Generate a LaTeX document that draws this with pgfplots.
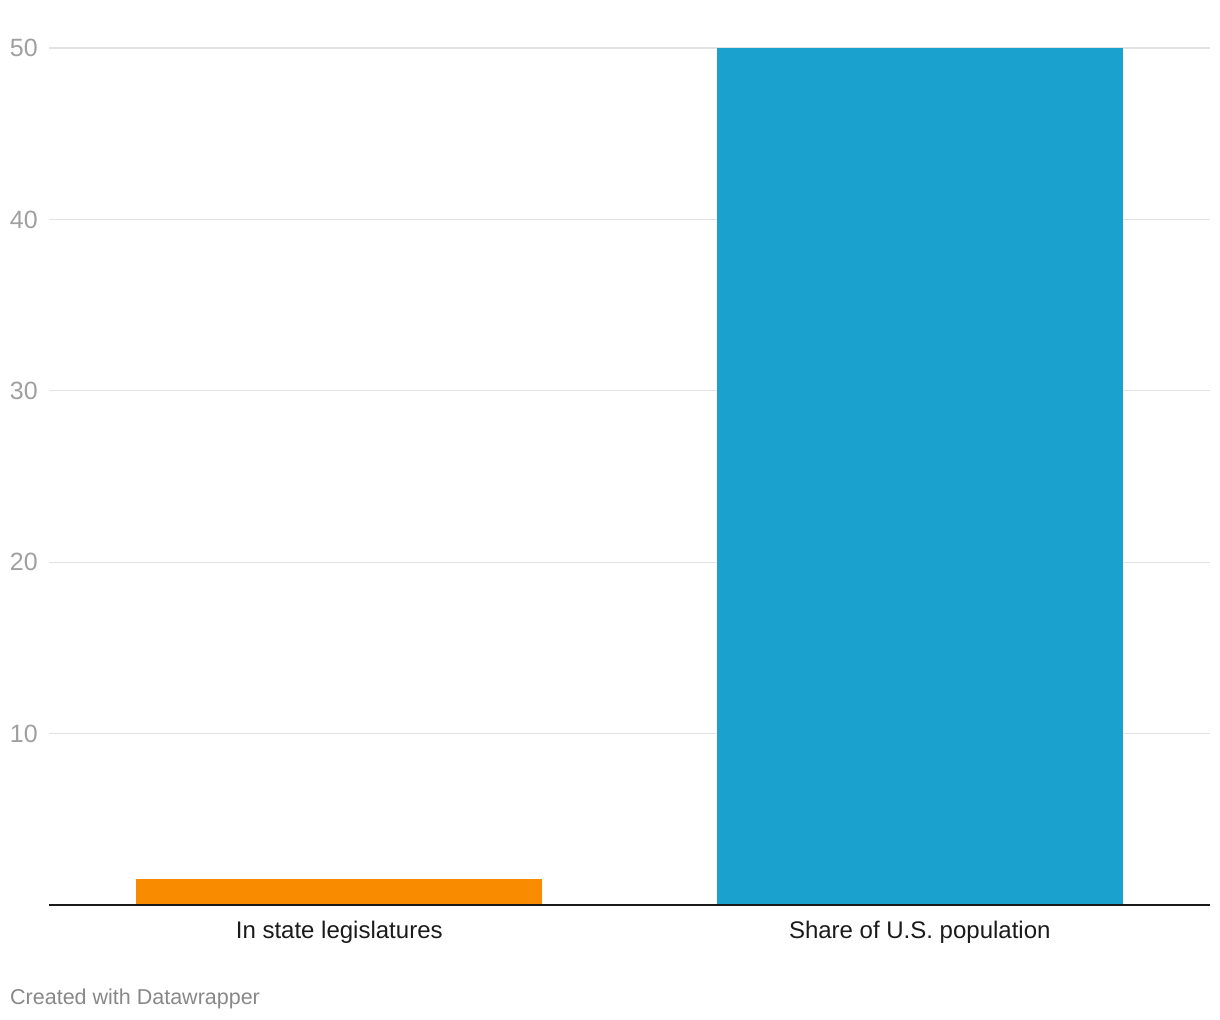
\documentclass[border=0pt]{standalone}
\usepackage{pgfplots}
\pgfplotsset{compat=1.18}
\usepackage{fontspec}
\setmainfont{Liberation Sans}
\definecolor{barorange}{HTML}{F98B00}
\definecolor{barblue}{HTML}{1AA1CE}
\definecolor{gridgray}{HTML}{E3E3E3}
\definecolor{tickgray}{HTML}{A0A0A0}
\definecolor{footgray}{HTML}{888888}
\definecolor{basecol}{HTML}{1A1A1A}
\begin{document}
\begin{tikzpicture}[x=1bp,y=1bp]
\useasboundingbox (0,0) rectangle (1220,-1020);
\begin{axis}[
  at={(49bp,-905bp)}, anchor=south west,
  scale only axis, width=1161bp, height=857bp,
  xmin=-0.5, xmax=1.5, ymin=0, ymax=50,
  axis line style={draw=none},
  xtick={0,1}, xticklabels={In state legislatures, Share of U.S. population},
  ytick={10,20,30,40,50},
  major tick length=0pt,
  ymajorgrids, grid style={gridgray, line width=1.3bp},
  yticklabel style={anchor=east, inner sep=0pt, xshift=-11bp, font=\fontsize{25bp}{30bp}\selectfont, text=tickgray},
  xticklabel style={anchor=north, inner sep=0pt, yshift=-16bp, font=\fontsize{24bp}{28bp}\selectfont, text=basecol},
  /pgf/number format/assume math mode=true,
  clip=false,
]
\addplot[ybar, bar width=0.7, fill=barorange, draw=none, bar shift=0pt] coordinates {(0,1.5)};
\addplot[ybar, bar width=0.7, fill=barblue, draw=none, bar shift=0pt] coordinates {(1,50)};
\draw[basecol, line width=2bp] (axis cs:-0.5,0) -- (axis cs:1.5,0);
\end{axis}
\node[anchor=west, inner sep=0pt, text=footgray, font=\fontsize{21.5bp}{26bp}\selectfont] at (10,-999) {Created with Datawrapper};
\end{tikzpicture}
\end{document}
